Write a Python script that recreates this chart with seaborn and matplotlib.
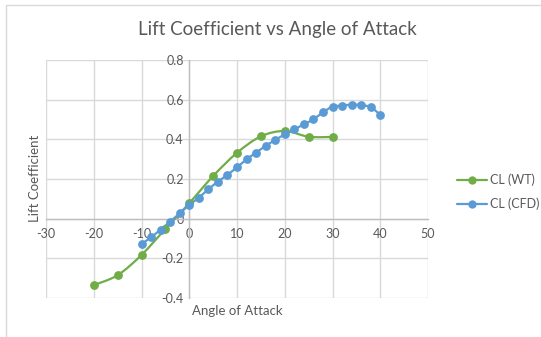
import numpy as np
import pandas as pd
import seaborn as sns
import matplotlib.pyplot as plt
from matplotlib.path import Path
from matplotlib.patches import PathPatch
from matplotlib.lines import Line2D

# Wind tunnel measurements
aoa_wt = [-20, -15, -10, -5, 0, 5, 10, 15, 20, 25, 30]
cl_wt = [-0.335, -0.285, -0.183, -0.052, 0.078, 0.215, 0.332, 0.415, 0.442, 0.413, 0.412]

# CFD results
aoa_cfd = [-10, -8, -6, -4, -2, 0, 2, 4, 6, 8, 10, 12, 14, 16, 18, 20,
           22, 24, 26, 28, 30, 32, 34, 36, 38, 40]
cl_cfd = [-0.128, -0.094, -0.055, -0.015, 0.027, 0.069, 0.106, 0.148, 0.187, 0.221,
          0.259, 0.299, 0.333, 0.367, 0.397, 0.425, 0.450, 0.476, 0.501, 0.536,
          0.565, 0.570, 0.575, 0.573, 0.562, 0.524]

series_names = ["CL (WT)", "CL (CFD)"]
colors = {"CL (WT)": "#70AD47", "CL (CFD)": "#5B9BD5"}

df = pd.concat([
    pd.DataFrame({"aoa": aoa_wt, "cl": cl_wt, "series": series_names[0]}),
    pd.DataFrame({"aoa": aoa_cfd, "cl": cl_cfd, "series": series_names[1]}),
], ignore_index=True)

sns.set_theme(style="white")
plt.rcParams["font.family"] = ["Lato", "DejaVu Sans"]

grey_text = "#595959"
fig = plt.figure(figsize=(5.41, 3.37), dpi=100)
ax = fig.add_axes([46 / 541, 1 - 298 / 337, 382 / 541, 238 / 337])


def smooth_path(xs, ys):
    """Catmull-Rom style cubic Bezier path through the given points."""
    pts = np.column_stack([xs, ys]).astype(float)
    n = len(pts)
    verts = [pts[0]]
    codes = [Path.MOVETO]
    for i in range(n - 1):
        p0 = pts[i - 1] if i > 0 else pts[i]
        p1 = pts[i]
        p2 = pts[i + 1]
        p3 = pts[i + 2] if i + 2 < n else pts[i + 1]
        c1 = p1 + (p2 - p0) / 6.0
        c2 = p2 - (p3 - p1) / 6.0
        verts += [c1, c2, p2]
        codes += [Path.CURVE4] * 3
    return Path(verts, codes)


for name in series_names:
    sub = df[df["series"] == name]
    patch = PathPatch(smooth_path(sub["aoa"].values, sub["cl"].values),
                      facecolor="none", edgecolor=colors[name], lw=1.6,
                      transform=ax.transData, zorder=3)
    ax.add_patch(patch)
    sns.scatterplot(data=sub, x="aoa", y="cl", color=colors[name], s=40,
                    edgecolor=colors[name], linewidth=0, ax=ax, zorder=4,
                    legend=False)

ax.set_xlim(-30, 50)
ax.set_ylim(-0.4, 0.8)
ax.set_xticks(np.arange(-30, 51, 10))
ax.set_yticks(np.round(np.arange(-0.4, 0.81, 0.2), 1))
ax.set_xticklabels([f"{v:g}" for v in np.arange(-30, 51, 10)])
ax.set_yticklabels([f"{v:g}" for v in np.round(np.arange(-0.4, 0.81, 0.2), 1)])

ax.grid(True, color="#D9D9D9", lw=1)
ax.set_axisbelow(True)
for side in ["top", "right"]:
    ax.spines[side].set_visible(False)
ax.spines["left"].set_position(("data", 0))
ax.spines["bottom"].set_position(("data", 0))
for side in ["left", "bottom"]:
    ax.spines[side].set_color("#BFBFBF")
    ax.spines[side].set_linewidth(1)
    ax.spines[side].set_zorder(2)
ax.tick_params(axis="both", length=0, labelsize=9, labelcolor=grey_text)
ax.tick_params(axis="x", pad=7)
ax.tick_params(axis="y", pad=4)

ax.set_xlabel("")
ax.set_ylabel("")
fig.text(237 / 541, 1 - 311 / 337, "Angle of Attack", ha="center", va="center",
         fontsize=9.5, color=grey_text)
fig.text(35 / 541, 1 - 178 / 337, "Lift Coefficient", ha="center", va="center",
         rotation=90, fontsize=9.5, color=grey_text)
fig.text(277 / 541, 1 - 30 / 337, "Lift Coefficient vs Angle of Attack",
         ha="center", va="center", fontsize=13.5, color=grey_text)

handles = [Line2D([], [], color=colors[n], lw=1.6, marker="o", markersize=6,
                  markeredgewidth=0) for n in series_names]
fig.legend(handles, series_names, loc="center left",
           bbox_to_anchor=(457 / 541, 1 - 192 / 337), frameon=False,
           fontsize=9, labelcolor=grey_text, handlelength=2.4,
           handletextpad=0.25, labelspacing=0.9, borderpad=0,
           borderaxespad=0)

# chart area border (top and left edges)
fig.add_artist(Line2D([6 / 541, 1], [1 - 4.5 / 337, 1 - 4.5 / 337],
                      transform=fig.transFigure, color="#D9D9D9", lw=1))
fig.add_artist(Line2D([6 / 541, 6 / 541], [0, 1 - 4.5 / 337],
                      transform=fig.transFigure, color="#D9D9D9", lw=1))

fig.savefig("out.png", dpi=100)
